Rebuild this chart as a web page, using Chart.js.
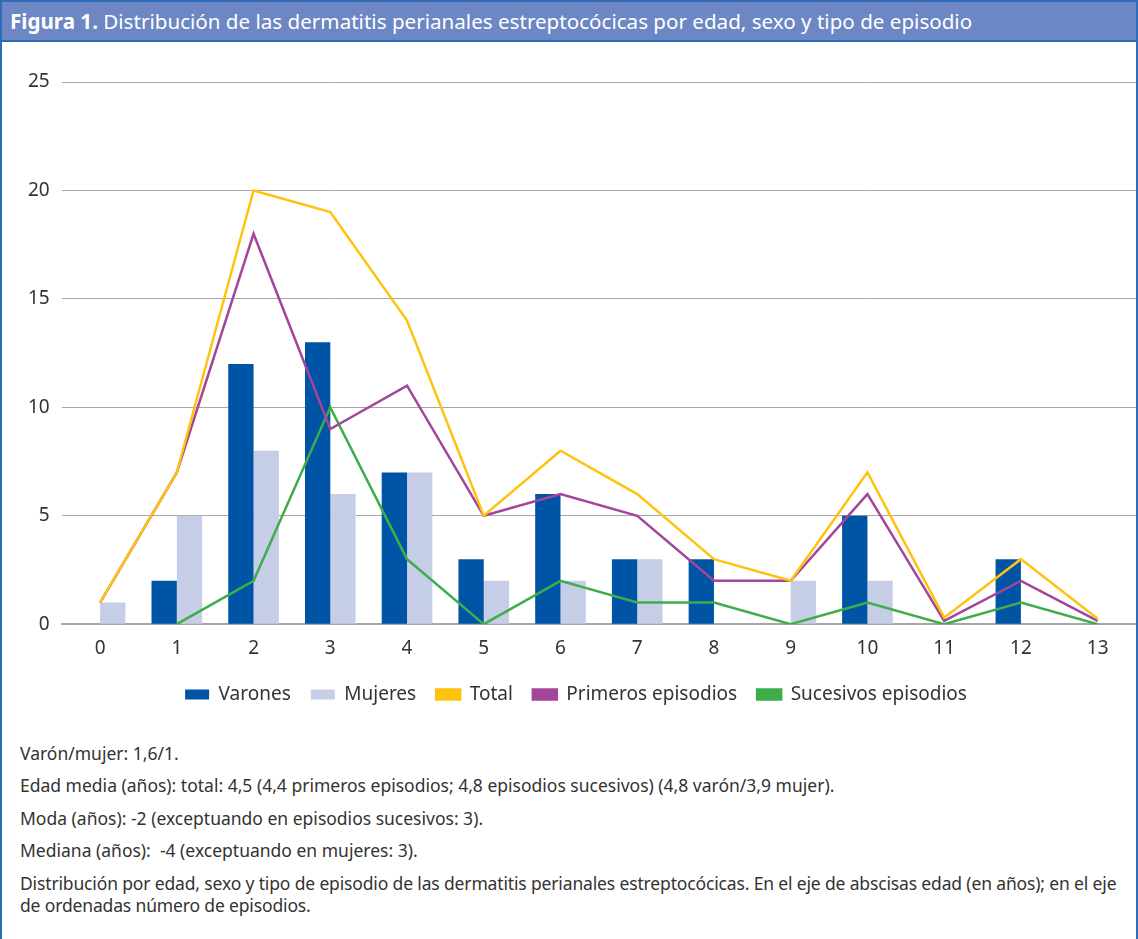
<!DOCTYPE html>
<html>
<head>
<meta charset="utf-8">
<script src="https://cdn.jsdelivr.net/npm/chart.js@4.4.1/dist/chart.umd.min.js"></script>
<style>
  body { margin: 0; background: #fff; }
  #frame {
    position: absolute; left: 0; top: 0; width: 1138px; height: 939px;
    box-sizing: border-box; border: 2px solid #2e6bb8; border-bottom: none;
    font-family: "Noto Sans", sans-serif; color: #333;
  }
  #title {
    height: 38px; background: #6c87c3; border-bottom: 2px solid #2e6bb8;
    color: #fff; font-size: 20.6px; line-height: 38px; padding-left: 8px; white-space: nowrap;
  }
  #title b { font-weight: bold; }
  #chartBox { position: absolute; left: 0; top: 40px; width: 1134px; height: 672px; }
  #notes { position: absolute; left: 18px; top: 735px; right: 4px; font-size: 17.5px; line-height: 32.4px; white-space: nowrap; }
  #notes .last { line-height: 22px; margin-top: 5px; letter-spacing: -0.15px; }
</style>
</head>
<body>
<div id="frame">
  <div id="title"><b>Figura 1.</b> Distribución de las dermatitis perianales estreptocócicas por edad, sexo y tipo de episodio</div>
  <div id="chartBox"><canvas id="chart"></canvas></div>
  <div id="notes">
    <div>Varón/mujer: 1,6/1.</div>
    <div>Edad media (años): total: 4,5 (4,4 primeros episodios; 4,8 episodios sucesivos) (4,8 varón/3,9 mujer).</div>
    <div>Moda (años): -2 (exceptuando en episodios sucesivos: 3).</div>
    <div>Mediana (años):&nbsp; -4 (exceptuando en mujeres: 3).</div>
    <div class="last">Distribución por edad, sexo y tipo de episodio de las dermatitis perianales estreptocócicas. En el eje de abscisas edad (en años); en el eje<br>de ordenadas número de episodios.</div>
  </div>
</div>
<script>
const edades = ['0', '1', '2', '3', '4', '5', '6', '7', '8', '9', '10', '11', '12', '13'];
const varones = [0, 2, 12, 13, 7, 3, 6, 3, 3, 0, 5, 0, 3, 0];
const mujeres = [1, 5, 8, 6, 7, 2, 2, 3, 0, 2, 2, 0, 0, 0];
const total = [1, 7, 20, 19, 14, 5, 8, 6, 3, 2, 7, 0.3, 3, 0.25];
const primeros = [1, 7, 18, 9, 11, 5, 6, 5, 2, 2, 6, 0.15, 2, 0.15];
const sucesivos = [null, 0, 2, 10, 3, 0, 2, 1, 1, 0, 1, 0, 1, 0];
const yTicks = [0, 5, 10, 15, 20, 25];

const font = { family: '"Noto Sans", sans-serif', size: 19 };

const ctx = document.getElementById('chart').getContext('2d');
new Chart(ctx, {
    data: {
        labels: edades,
        datasets: [
            { type: 'bar', label: 'Varones', data: varones, backgroundColor: '#0054a6', order: 2 },
            { type: 'bar', label: 'Mujeres', data: mujeres, backgroundColor: '#c6cde7', order: 2 },
            { type: 'line', label: 'Total', data: total, borderColor: '#ffc20e', backgroundColor: '#ffc20e', borderWidth: 2.5, pointRadius: 0, tension: 0, order: 1 },
            { type: 'line', label: 'Primeros episodios', data: primeros, borderColor: '#a3459b', backgroundColor: '#a3459b', borderWidth: 2.5, pointRadius: 0, tension: 0, order: 1 },
            { type: 'line', label: 'Sucesivos episodios', data: sucesivos, borderColor: '#3dae49', backgroundColor: '#3dae49', borderWidth: 2.5, pointRadius: 0, tension: 0, order: 1 },
        ]
    },
    options: {
        animation: false,
        responsive: true,
        maintainAspectRatio: false,
        layout: { padding: { top: 40, left: 14, right: 0, bottom: 0 } },
        datasets: {
            bar: { barPercentage: 1, categoryPercentage: 0.66 },
        },
        plugins: {
            legend: {
                position: 'bottom',
                labels: {
                    sort: (a, b) => a.datasetIndex - b.datasetIndex,
                    boxWidth: 24,
                    boxHeight: 10,
                    padding: 20,
                    color: '#333',
                    font: font,
                },
            },
            tooltip: { enabled: false },
        },
        scales: {
            x: {
                offset: true,
                grid: { display: false },
                border: { color: '#a6a6a6', width: 2 },
                ticks: { color: '#333', font: font, padding: 5 },
            },
            y: {
                min: 0,
                max: 25,
                afterBuildTicks: (axis) => { axis.ticks = yTicks.map(v => ({ value: v })); },
                grid: { color: '#a6a6a6', lineWidth: 1, drawTicks: false },
                border: { display: false },
                ticks: { color: '#333', font: font, padding: 12 },
            },
        },
    },
});
</script>
</body>
</html>
